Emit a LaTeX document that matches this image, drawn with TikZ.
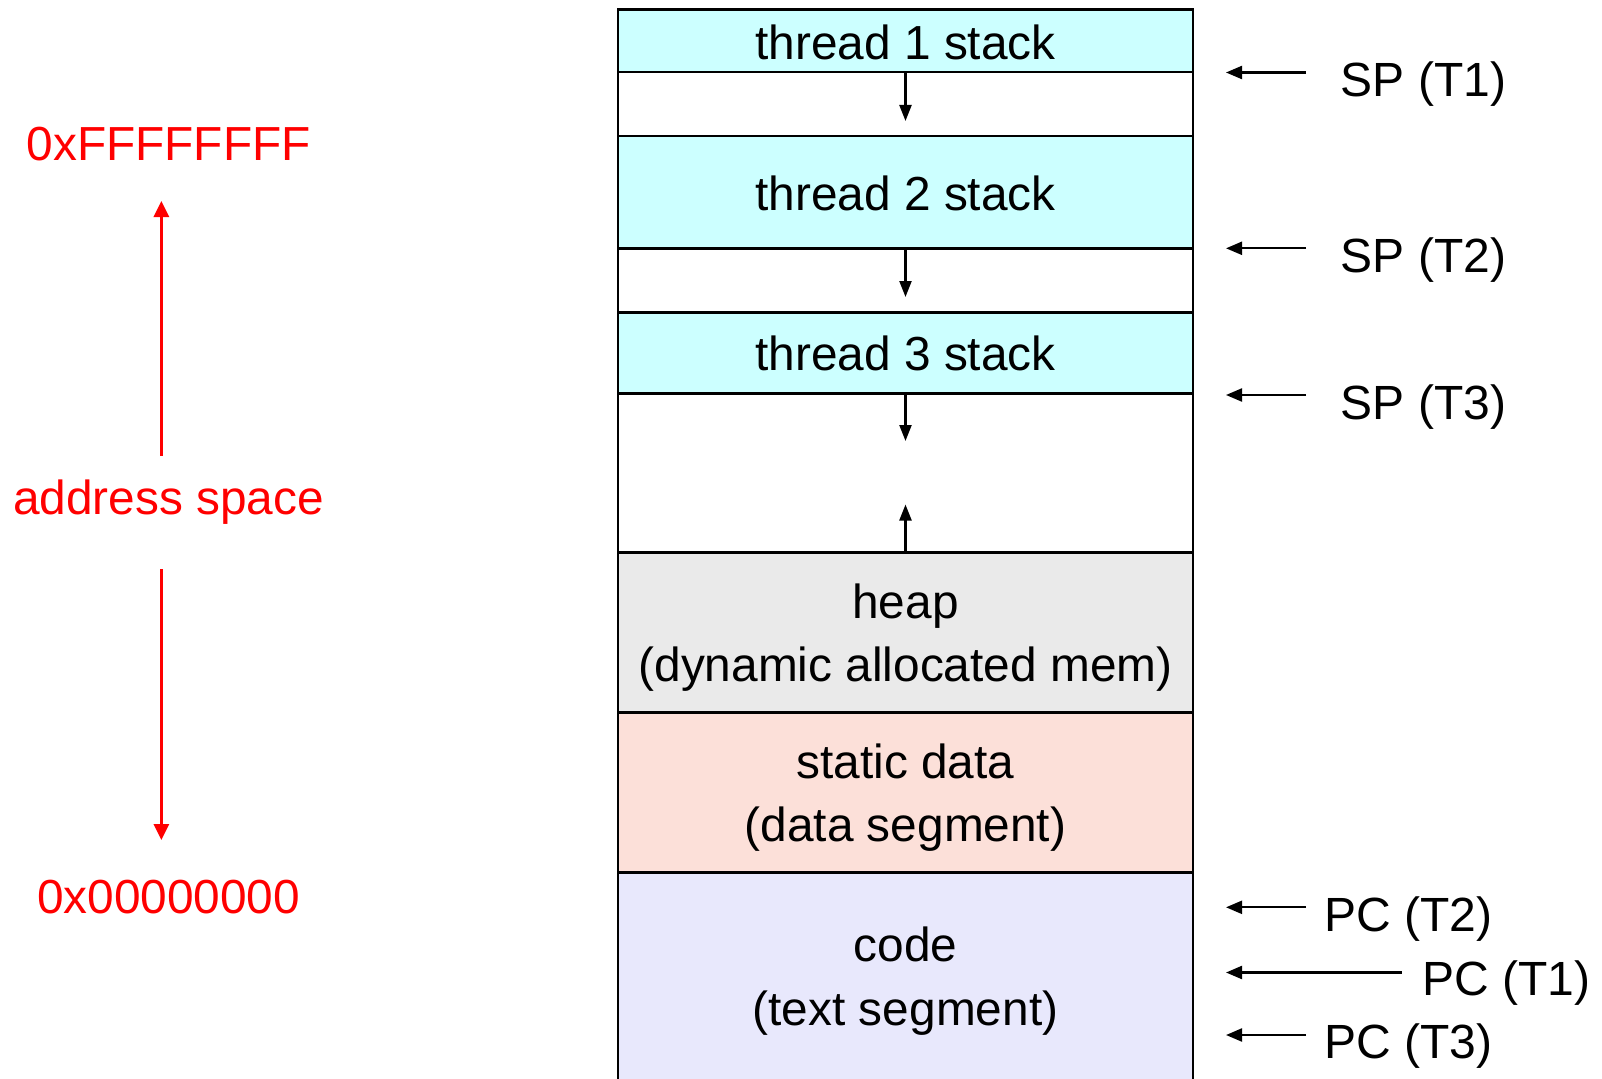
\documentclass[tikz,border=0pt]{standalone}
\usepackage{fontspec}
\setmainfont{Liberation Sans}
\usetikzlibrary{arrows.meta}
\definecolor{stackc}{RGB}{204,255,255}
\definecolor{heapc}{RGB}{234,234,234}
\definecolor{datac}{RGB}{252,224,217}
\definecolor{codec}{RGB}{232,232,252}
\definecolor{addrred}{RGB}{255,0,0}
\begin{document}
\begin{tikzpicture}[x=1pt,y=-1pt,
  segline/.style={draw=black, line width=2.8pt},
  txt/.style={inner sep=0pt, anchor=base, font=\fontsize{47.8}{63.4}\selectfont, align=center},
  sidetxt/.style={inner sep=0pt, anchor=base west, font=\fontsize{48}{63.4}\selectfont},
  redtxt/.style={inner sep=0pt, anchor=base, text=addrred, font=\fontsize{47.8}{63.4}\selectfont},
  growarrow/.style={line width=2.2pt, -{Triangle[length=16pt,width=12pt]}},
  ptrarrow/.style={line width=2.2pt, -{Triangle[length=16pt,width=13pt]}},
  redarrow/.style={addrred, line width=3pt, -{Triangle[length=16pt,width=15pt]}}
]
\useasboundingbox (0,0) rectangle (1602,1078);
\begin{scope}
\clip (0,0) rectangle (1602,1078);
% fills
\fill[stackc] (618,9.3) rectangle (1193,72);
\fill[white]  (618,72) rectangle (1193,136);
\fill[stackc] (618,136) rectangle (1193,248.3);
\fill[white]  (618,248.3) rectangle (1193,312.5);
\fill[stackc] (618,312.5) rectangle (1193,393.3);
\fill[white]  (618,393.3) rectangle (1193,552.7);
\fill[heapc]  (618,552.7) rectangle (1193,712.5);
\fill[datac]  (618,712.5) rectangle (1193,872.8);
\fill[codec]  (618,872.8) rectangle (1193,1100);
% outline
\draw[segline] (618,1100) -- (618,9.3) -- (1193,9.3) -- (1193,1100);
\foreach \yy in {72,136,248.3,312.5,393.3,552.7,712.5,872.8}
  \draw[segline] (618,\yy) -- (1193,\yy);
\end{scope}

% segment texts
\node[txt] (t1) at (905.5,59.3) {thread 1 stack};
\node[txt] (t2) at (905.5,210) {thread 2 stack};
\node[txt] (t3) at (905.5,370) {thread 3 stack};
\node[txt] (heap) at (905.5,618.3) {heap};
\node[txt] (heap2) at (905.5,681.7) {(dynamic allocated mem)};
\node[txt] (data) at (905.5,778.3) {static data};
\node[txt] (data2) at (905.5,841.7) {(data segment)};
\node[txt] (code) at (905.5,961.7) {code};
\node[txt] (code2) at (905.5,1025) {(text segment)};

% growth arrows
\coordinate (g1s) at (905.5,72);
\coordinate (g1e) at (905.5,121);
\coordinate (g2s) at (905.5,248.3);
\coordinate (g2e) at (905.5,297);
\coordinate (g3s) at (905.5,393.3);
\coordinate (g3e) at (905.5,441);
\coordinate (g4s) at (905.5,552.7);
\coordinate (g4e) at (905.5,504.5);
\draw[growarrow] (g1s) -- (g1e);
\draw[growarrow] (g2s) -- (g2e);
\draw[growarrow] (g3s) -- (g3e);
\draw[growarrow] (g4s) -- (g4e);

% stack pointers
\node[sidetxt] (sp1) at (1340.5,97) {SP (T1)};
\node[sidetxt] (sp2) at (1340.5,272.7) {SP (T2)};
\node[sidetxt] (sp3) at (1340.5,419.5) {SP (T3)};
\coordinate (sp1s) at (1306,72.5);   \coordinate (sp1e) at (1226,72.5);
\coordinate (sp2s) at (1306,248.3);  \coordinate (sp2e) at (1226,248.3);
\coordinate (sp3s) at (1306,395);    \coordinate (sp3e) at (1226,395);
\draw[ptrarrow] (sp1s) -- (sp1e);
\draw[ptrarrow] (sp2s) -- (sp2e);
\draw[ptrarrow] (sp3s) -- (sp3e);

% program counters
\node[sidetxt] (pc2) at (1324,931.7) {PC (T2)};
\node[sidetxt] (pc1) at (1422,995) {PC (T1)};
\node[sidetxt] (pc3) at (1324,1058.3) {PC (T3)};
\coordinate (pc2s) at (1306,907.3);  \coordinate (pc2e) at (1226,907.3);
\coordinate (pc1s) at (1401.7,972.5);\coordinate (pc1e) at (1226,972.5);
\coordinate (pc3s) at (1306,1035);   \coordinate (pc3e) at (1226,1035);
\draw[ptrarrow] (pc2s) -- (pc2e);
\draw[ptrarrow] (pc1s) -- (pc1e);
\draw[ptrarrow] (pc3s) -- (pc3e);

% address space
\node[redtxt] (hi) at (168.6,160.4) {0xFFFFFFFF};
\node[redtxt] (as) at (168.6,514) {address space};
\node[redtxt] (lo) at (168.6,913.4) {0x00000000};
\coordinate (ups) at (161.4,455.7);  \coordinate (upe) at (161.4,201);
\coordinate (dns) at (161.4,569);    \coordinate (dne) at (161.4,840);
\draw[redarrow] (ups) -- (upe);
\draw[redarrow] (dns) -- (dne);
\end{tikzpicture}
\end{document}
